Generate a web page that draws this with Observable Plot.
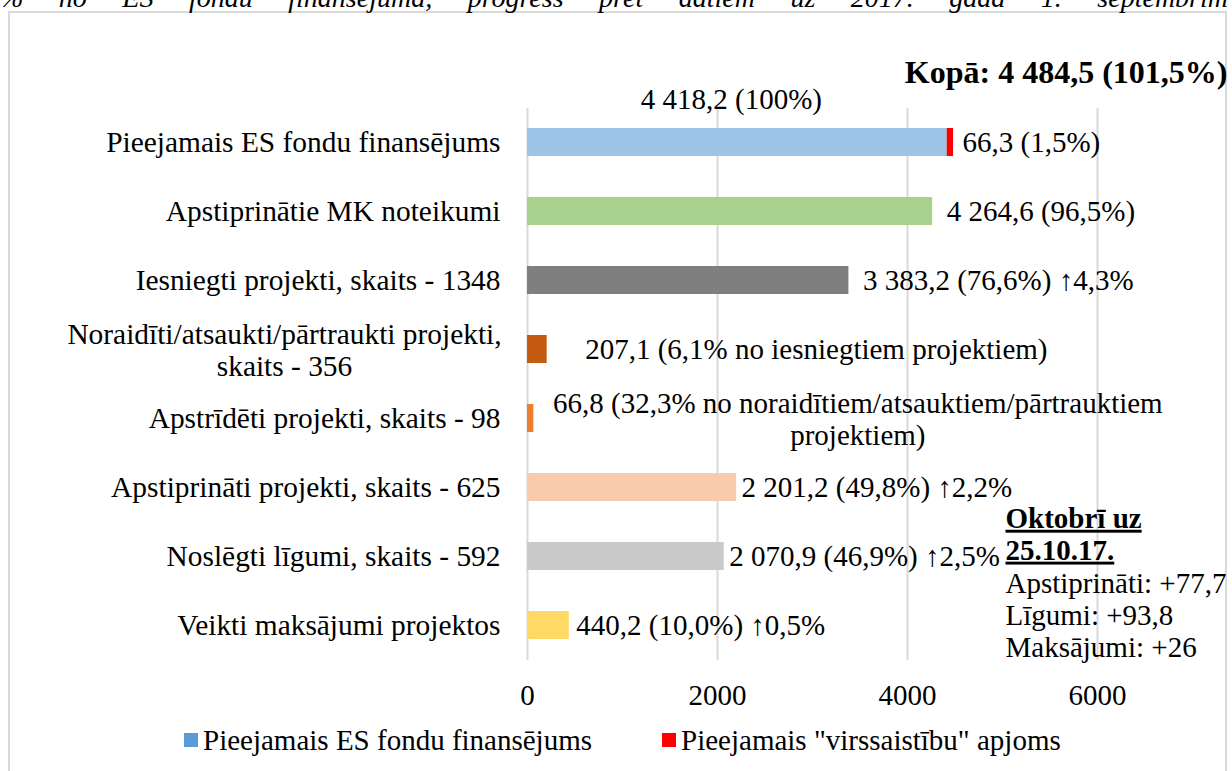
<!DOCTYPE html>
<html><head><meta charset="utf-8">
<script src="https://cdn.jsdelivr.net/npm/d3@7"></script>
<script src="https://cdn.jsdelivr.net/npm/@observablehq/plot@0.6"></script>
<style>
html,body{margin:0;padding:0;background:#fff;}
#wrap{position:relative;width:1232px;height:771px;overflow:hidden;font-family:"Liberation Serif","Times New Roman",serif;color:#000;}
#frame{position:absolute;left:8px;top:11px;width:1219px;height:800px;border:2px solid #d9d9d9;box-sizing:border-box;}
#top{position:absolute;left:0;top:-16px;width:1228px;font-style:italic;font-size:28px;line-height:28px;text-align:justify;text-align-last:justify;}
#chart{position:absolute;left:0;top:0;}
#legend{position:absolute;left:184px;top:726px;height:28px;display:flex;align-items:center;font-size:29px;line-height:28px;}
.item{display:flex;align-items:center;margin-right:70px;}
.sw{width:14px;height:14px;margin-right:5px;}
</style>
</head><body>
<div id="wrap">
  <div id="frame"></div>
  <div id="top"></div>
  <div id="chart"></div>
  <div id="legend"></div>
</div>
<script>
// ---- data ----
const topText = "% no ES fondu finansējuma, progress pret datiem uz 2017. gada 1. septembrim";
const categories = [
  "Pieejamais ES fondu finansējums",
  "Apstiprinātie MK noteikumi",
  "Iesniegti projekti, skaits - 1348",
  "Noraidīti/atsaukti/pārtraukti projekti,\nskaits - 356",
  "Apstrīdēti projekti, skaits - 98",
  "Apstiprināti projekti, skaits - 625",
  "Noslēgti līgumi, skaits - 592",
  "Veikti maksājumi projektos"
];
const values = [4418.2, 4264.6, 3383.2, 207.1, 66.8, 2201.2, 2070.9, 440.2];
const overValue = 66.3; // "virssaistību" apjoms, stacked on the first bar
const firstBarLabel = "4 418,2 (100%)";
const valueLabels = [
  "66,3 (1,5%)",
  "4 264,6 (96,5%)",
  "3 383,2 (76,6%) ↑4,3%",
  "207,1 (6,1% no iesniegtiem projektiem)",
  "66,8 (32,3% no noraidītiem/atsauktiem/pārtrauktiem\nprojektiem)",
  "2 201,2 (49,8%) ↑2,2%",
  "2 070,9 (46,9%) ↑2,5%",
  "440,2 (10,0%) ↑0,5%"
];
const totalLabel = "Kopā: 4 484,5 (101,5%)";
const noteTitle = "Oktobrī uz\n25.10.17.";
const noteLines = "Apstiprināti: +77,7\nLīgumi: +93,8\nMaksājumi: +26";
const xTicks = [0, 2000, 4000, 6000];
const legendLabels = ["Pieejamais ES fondu finansējums", "Pieejamais \"virssaistību\" apjoms"];

// ---- styles ----
const barColors = ["#9dc3e6", "#a9d18e", "#7f7f7f", "#c55a11", "#ed7d31", "#f8cbad", "#c9c9c9", "#ffd966"];
const overColor = "#ff0000";
const legendColors = ["#5b9bd5", "#ff0000"];
const labelDx = [9, 14, 14, 38, 324, 5, 5, 7];
const FONT = "'Liberation Serif', 'Times New Roman', serif";

// ---- tables ----
const bars = categories.map((c, i) => ({cat: c, value: values[i], fill: barColors[i]}));
bars.splice(1, 0, {cat: categories[0], value: overValue, fill: overColor});
const ends = categories.map((c, i) => ({
  cat: c,
  end: i === 0 ? values[0] + overValue : values[i],
  text: valueLabels[i],
  dx: labelDx[i],
  wrapped: valueLabels[i].includes("\n")
}));

document.getElementById("top").textContent = topText;

const plot = Plot.plot({
  width: 1232,
  height: 720,
  marginLeft: 527,
  marginRight: 135,
  marginTop: 108,
  marginBottom: 60,
  style: {fontFamily: FONT, fontSize: "29px", background: "transparent", color: "#000"},
  x: {domain: [0, 6000], axis: null},
  y: {domain: categories, paddingInner: 0.594, paddingOuter: 0.297, axis: null},
  color: {type: "identity"},
  marks: [
    Plot.ruleX(xTicks, {stroke: "#d9d9d9", strokeWidth: 2, strokeOpacity: 1}),
    Plot.barX(bars, {y: "cat", x: "value", fill: "fill"}),
    Plot.axisX({ticks: xTicks, tickSize: 0, tickPadding: 24, fontSize: 29, tickFormat: d3.format("d")}),
    // category labels
    Plot.text(categories.filter(c => !c.includes("\n")), {y: d => d, frameAnchor: "left", textAnchor: "end", dx: -27, fontSize: 29.4, fill: "#000"}),
    Plot.text(categories.filter(c => c.includes("\n")), {y: d => d, frameAnchor: "left", textAnchor: "middle", dx: -243, fontSize: 29.4, lineHeight: 1.1, fill: "#000"}),
    // value labels (per-row horizontal offsets applied below)
    Plot.text(ends.filter(d => !d.wrapped), {y: "cat", x: "end", text: "text", textAnchor: "start", fontSize: 29, fill: "#000"}),
    Plot.text(ends.filter(d => d.wrapped), {y: "cat", x: "end", text: "text", textAnchor: "middle", dx: labelDx[4], fontSize: 29, lineHeight: 1.1, fill: "#000"}),
    Plot.text([values[0]], {y: () => categories[0], x: d => d / 2, text: () => firstBarLabel, textAnchor: "middle", dx: -6, dy: -43, fontSize: 29, fill: "#000"}),
    Plot.text([totalLabel], {frameAnchor: "top-right", lineAnchor: "middle", textAnchor: "end", dx: 130, dy: -36, fontSize: 32, fontWeight: "bold", fill: "#000"}),
    Plot.text([noteTitle], {frameAnchor: "top-right", lineAnchor: "middle", textAnchor: "start", dx: -92, dy: 425, fontSize: 29, fontWeight: "bold", lineHeight: 1.1, fill: "#000"}),
    Plot.text([noteLines], {frameAnchor: "top-right", lineAnchor: "middle", textAnchor: "start", dx: -92, dy: 506, fontSize: 29, lineHeight: 1.1, fill: "#000"})
  ]
});

// per-label horizontal offsets for the bar-end labels, underline for the note title
d3.select(plot).selectAll("text").each(function() {
  const t = this.textContent;
  const row = ends.find(e => !e.wrapped && e.text === t);
  if (row) {
    const tr = this.getAttribute("transform") || "";
    this.setAttribute("transform", (tr + ` translate(${row.dx},0)`).trim());
  }
  if (t.startsWith("Oktobr")) this.style.textDecoration = "underline";
});

document.getElementById("chart").appendChild(plot);

const legend = document.getElementById("legend");
legendLabels.forEach((lab, i) => {
  const it = document.createElement("div");
  it.className = "item";
  const sw = document.createElement("div");
  sw.className = "sw";
  sw.style.background = legendColors[i];
  const tx = document.createElement("span");
  tx.textContent = lab;
  it.appendChild(sw); it.appendChild(tx);
  legend.appendChild(it);
});
</script>
</body></html>
